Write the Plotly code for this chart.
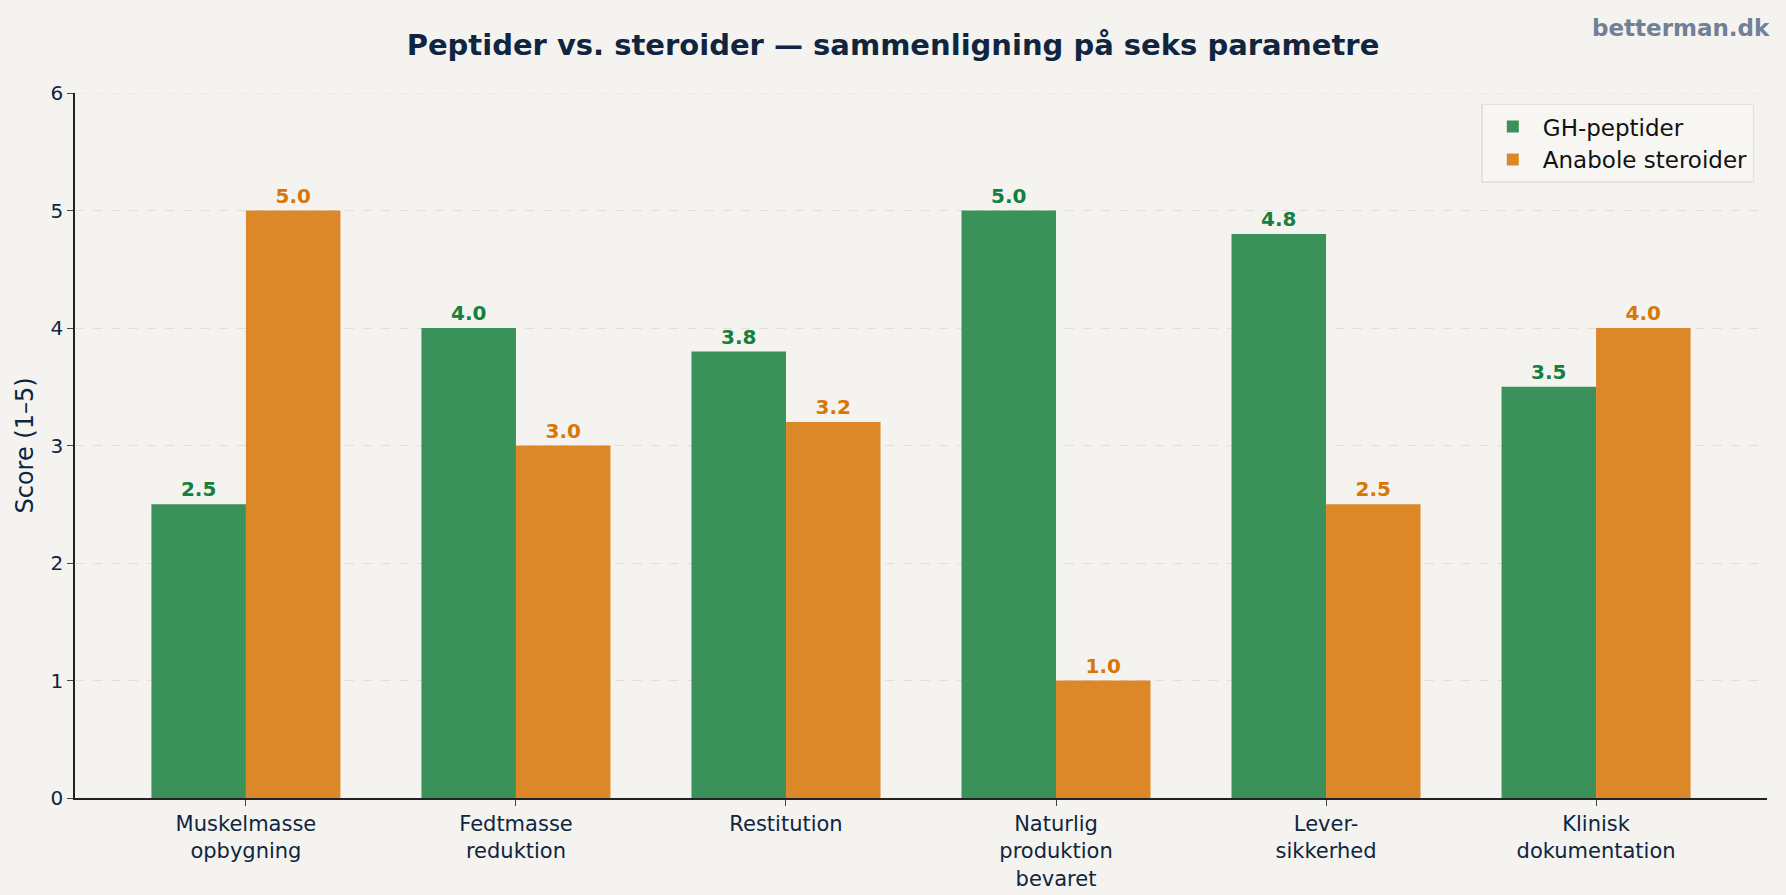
import plotly.graph_objects as go

categories = ["Muskelmasse<br>opbygning", "Fedtmasse<br>reduktion", "Restitution",
              "Naturlig<br>produktion<br>bevaret", "Lever-<br>sikkerhed", "Klinisk<br>dokumentation"]
gh_values = [2.5, 4.0, 3.8, 5.0, 4.8, 3.5]
steroid_values = [5.0, 3.0, 3.2, 1.0, 2.5, 4.0]
series_names = ["GH-peptider", "Anabole steroider"]
y_ticks = [0, 1, 2, 3, 4, 5, 6]

FONT = "DejaVu Sans"
NAVY = "#0f2540"
BG = "#f4f3ef"
GRID = "#e2dfda"

x_idx = list(range(len(categories)))

fig = go.Figure()
fig.add_trace(go.Bar(
    x=x_idx, y=gh_values, name=series_names[0],
    marker=dict(color="#3a915a", line=dict(width=0)),
    texttemplate="<b>%{y:.1f}</b>", textposition="outside",
    textfont=dict(family=FONT, size=20, color="#15803d"),
    cliponaxis=False,
))
fig.add_trace(go.Bar(
    x=x_idx, y=steroid_values, name=series_names[1],
    marker=dict(color="#dc8829", line=dict(width=0)),
    texttemplate="<b>%{y:.1f}</b>", textposition="outside",
    textfont=dict(family=FONT, size=20, color="#d97706"),
    cliponaxis=False,
))

fig.update_layout(
    width=1786, height=895,
    paper_bgcolor=BG, plot_bgcolor=BG,
    barmode="group", bargap=0.3, bargroupgap=0,
    margin=dict(l=75, r=19, t=93, b=97),
    font=dict(family=FONT, color=NAVY),
    title=dict(text="<b>Peptider vs. steroider — sammenligning på seks parametre</b>",
               x=0.5, xanchor="center", y=0.95, yanchor="middle",
               font=dict(family=FONT, size=29, color=NAVY)),
    legend=dict(x=0.9925, xanchor="right", y=0.985, yanchor="top",
                bgcolor="#f7f6f3", bordercolor="#e4e2de", borderwidth=1.5,
                font=dict(family=FONT, size=23, color="#111111"),
                itemwidth=50, tracegroupgap=8),
)

# top gridline (plotly hides the one at the range edge)
fig.add_shape(type="line", xref="paper", yref="y", x0=0, x1=1,
              y0=y_ticks[-1], y1=y_ticks[-1],
              line=dict(color=GRID, width=1, dash="dash"), layer="below")

fig.update_xaxes(
    tickmode="array", tickvals=x_idx, ticktext=categories,
    range=[-0.633, 5.633], automargin=False,
    showline=True, linecolor="#222222", linewidth=1.5,
    ticks="outside", ticklen=6, tickcolor="#444444",
    tickfont=dict(family=FONT, size=21, color=NAVY),
    showgrid=False, zeroline=False,
)
fig.update_yaxes(
    range=[0, 6], tickvals=y_ticks, automargin=False,
    showline=True, linecolor="#222222", linewidth=1.5,
    ticks="outside", ticklen=6, tickcolor="#444444",
    tickfont=dict(family=FONT, size=20, color=NAVY),
    showgrid=True, gridcolor=GRID, griddash="dash", gridwidth=1,
    zeroline=False,
    title=dict(text="Score (1–5)", font=dict(family=FONT, size=24, color=NAVY), standoff=10),
)

fig.add_annotation(text="<b>betterman.dk</b>", xref="paper", yref="paper",
                   x=1.0, xanchor="right", y=1.092, yanchor="middle",
                   showarrow=False, font=dict(family=FONT, size=23, color="#718096"),
                   xshift=5)

fig.write_html("out.html")
